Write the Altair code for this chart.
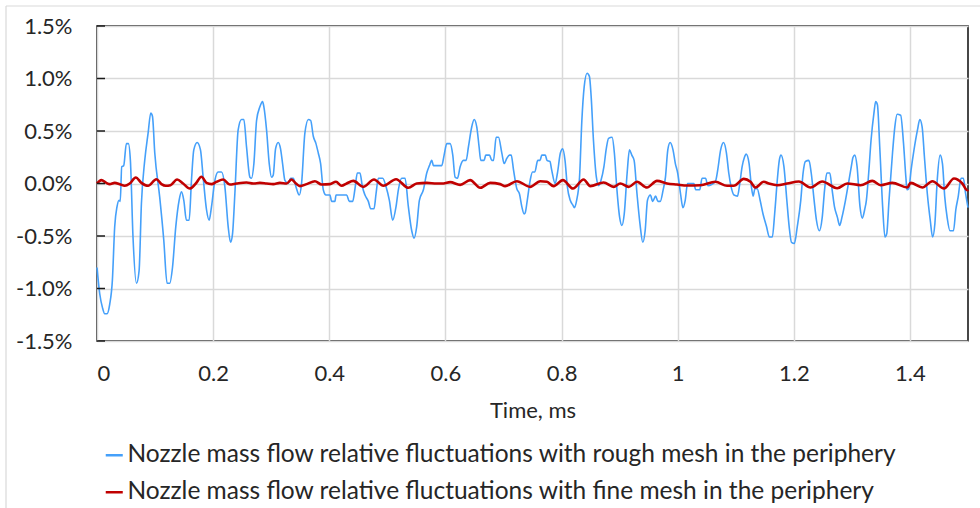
import altair as alt
import pandas as pd

ROUGH = "Nozzle mass flow relative fluctuations with rough mesh in the periphery"
FINE = "Nozzle mass flow relative fluctuations with fine mesh in the periphery"

rough_t = [0.000, 0.0047, 0.0093, 0.0133, 0.0173, 0.0219, 0.0265, 0.0305, 0.0345, 0.038, 0.040, 0.0426, 0.046,
           0.0506, 0.054, 0.0575, 0.062, 0.068, 0.0725, 0.0765, 0.0822, 0.088, 0.0926, 0.0955, 0.0995, 0.108,
           0.115, 0.1207, 0.1253, 0.130, 0.1357, 0.1414, 0.1455, 0.1495, 0.154, 0.1587, 0.1627, 0.1667, 0.1725,
           0.1782, 0.1828, 0.1886, 0.1931, 0.1972, 0.203, 0.2087, 0.2144, 0.2202, 0.2259, 0.230, 0.2334, 0.2374,
           0.2431, 0.2489, 0.2529, 0.2575, 0.2633, 0.2661, 0.2702, 0.2748, 0.2805, 0.2851, 0.2874, 0.292, 0.2966,
           0.3006, 0.3035, 0.3075, 0.3121, 0.3161, 0.3196, 0.3236, 0.3294, 0.3334, 0.338, 0.3426, 0.3483, 0.3523,
           0.358, 0.364, 0.368, 0.3725, 0.3771, 0.3811, 0.3851, 0.3897, 0.3943, 0.4012, 0.404, 0.4098, 0.4116,
           0.430, 0.4345, 0.4403, 0.4443, 0.4483, 0.4529, 0.457, 0.4615, 0.4673, 0.4713, 0.4771, 0.4805, 0.4845,
           0.492, 0.4978, 0.5035, 0.5092, 0.515, 0.519, 0.5247, 0.5305, 0.5362, 0.542, 0.546, 0.5506, 0.5552,
           0.5621, 0.5679, 0.5725, 0.5765, 0.5794, 0.5937, 0.5978, 0.6024, 0.6081, 0.6127, 0.6167, 0.6208, 0.6254,
           0.6311, 0.6357, 0.6397, 0.6454, 0.6495, 0.654, 0.658, 0.6609, 0.6667, 0.6695, 0.6759, 0.6799, 0.6828,
           0.6874, 0.6914, 0.6972, 0.7012, 0.7058, 0.7104, 0.7133, 0.7173, 0.723, 0.7276, 0.7316, 0.7356, 0.7374,
           0.741, 0.746, 0.750, 0.754, 0.759, 0.763, 0.766, 0.772, 0.775, 0.780, 0.783, 0.789, 0.793, 0.798, 0.802,
           0.806, 0.810, 0.815, 0.820, 0.822, 0.826, 0.831, 0.835, 0.839, 0.844, 0.848, 0.851, 0.855, 0.860, 0.864,
           0.868, 0.873, 0.877, 0.881, 0.887, 0.891, 0.895, 0.900, 0.904, 0.908, 0.913, 0.917, 0.921, 0.925, 0.930,
           0.935, 0.940, 0.944, 0.948, 0.953, 0.957, 0.962, 0.966, 0.970, 0.975, 0.979, 0.983, 0.987, 0.992, 0.996,
           1.000, 1.005, 1.009, 1.013, 1.017, 1.028, 1.031, 1.038, 1.042, 1.048, 1.052, 1.065, 1.069, 1.074, 1.079,
           1.084, 1.088, 1.092, 1.097, 1.103, 1.107, 1.111, 1.115, 1.118, 1.123, 1.127, 1.130, 1.133, 1.137, 1.142,
           1.147, 1.153, 1.158, 1.163, 1.167, 1.172, 1.175, 1.178, 1.183, 1.188, 1.192, 1.196, 1.201, 1.206, 1.212,
           1.216, 1.220, 1.226, 1.230, 1.235, 1.239, 1.244, 1.249, 1.253, 1.257, 1.262, 1.266, 1.270, 1.275, 1.279,
           1.283, 1.289, 1.295, 1.299, 1.302, 1.305, 1.309, 1.314, 1.318, 1.322, 1.325, 1.329, 1.333, 1.338, 1.341,
           1.344, 1.348, 1.353, 1.357, 1.360, 1.364, 1.370, 1.374, 1.378, 1.384, 1.389, 1.393, 1.395, 1.398, 1.402,
           1.407, 1.413, 1.417, 1.421, 1.425, 1.430, 1.435, 1.439, 1.443, 1.447, 1.452, 1.456, 1.460, 1.464, 1.469,
           1.475, 1.479, 1.483, 1.488, 1.492, 1.496, 1.500]
rough_v = [-0.80, -1.05, -1.18, -1.24, -1.24, -1.15, -0.92, -0.41, -0.22, -0.16, -0.17, 0.16, 0.17,
           0.38, 0.38, 0.22, -0.51, -0.95, -0.83, -0.19, 0.22, 0.48, 0.67, 0.64, 0.29, -0.13,
           -0.54, -0.95, -0.95, -0.80, -0.41, -0.16, -0.08, -0.16, -0.35, -0.35, 0.03, 0.32, 0.39,
           0.32, 0.06, -0.25, -0.35, -0.22, 0.03, 0.11, 0.11, -0.03, -0.41, -0.56, -0.48, -0.10,
           0.51, 0.61, 0.61, 0.35, 0.06, 0.05, 0.19, 0.60, 0.73, 0.78, 0.73, 0.51, 0.19,
           0.06, 0.08, 0.33, 0.39, 0.33, 0.19, 0.03, 0.00, 0.05, 0.05, -0.03, -0.11, 0.00,
           0.48, 0.61, 0.60, 0.45, 0.38, 0.29, 0.19, -0.06, -0.11, -0.11, -0.17, -0.17, -0.11,
           -0.11, -0.17, -0.17, -0.05, 0.10, 0.10, -0.03, -0.11, -0.17, -0.24, -0.24, -0.10, 0.05,
           0.05, -0.03, -0.16, -0.35, -0.22, -0.06, 0.05, 0.05, -0.22, -0.45, -0.52, -0.41, -0.16,
           -0.06, 0.10, 0.17, 0.22, 0.17, 0.17, 0.27, 0.38, 0.38, 0.27, 0.06, 0.05, 0.16,
           0.22, 0.22, 0.35, 0.54, 0.61, 0.54, 0.35, 0.22, 0.22, 0.27, 0.27, 0.22, 0.22,
           0.44, 0.44, 0.29, 0.19, 0.24, 0.27, 0.27, 0.13, -0.05, -0.10, -0.22, -0.29, -0.28,
           -0.16, 0.03, 0.11, 0.11, 0.22, 0.22, 0.27, 0.27, 0.22, 0.21, 0.13, 0.00, 0.10, 0.29, 0.33,
           0.22, -0.03, -0.16, -0.21, -0.23, -0.16, 0.06, 0.60, 0.92, 1.05, 1.02, 0.83, 0.41, 0.06, -0.02,
           0.03, 0.16, 0.33, 0.43, 0.44, 0.29, -0.03, -0.32, -0.40, -0.29, 0.10, 0.32, 0.27, 0.22, -0.10,
           -0.38, -0.56, -0.45, -0.16, -0.11, -0.17, -0.12, -0.17, -0.17, -0.06, 0.06, 0.32, 0.39, 0.32, 0.19,
           0.10, -0.10, -0.23, -0.16, 0.00, 0.00, -0.06, -0.06, 0.05, 0.05, -0.02, 0.02, 0.13, 0.32, 0.39,
           0.29, 0.10, -0.03, -0.11, -0.12, 0.00, 0.16, 0.25, 0.28, 0.19, -0.03, -0.12, -0.05, -0.05, -0.16,
           -0.29, -0.41, -0.51, -0.51, -0.29, 0.06, 0.22, 0.27, 0.16, -0.16, -0.41, -0.56, -0.57, -0.41, -0.16,
           0.10, 0.21, 0.22, 0.10, -0.16, -0.35, -0.45, -0.32, -0.06, 0.10, 0.10, -0.06, -0.22, -0.32, -0.40,
           -0.32, -0.16, 0.03, 0.16, 0.25, 0.27, 0.16, -0.22, -0.33, -0.25, -0.16, 0.10, 0.41, 0.67, 0.78,
           0.75, 0.35, -0.22, -0.51, -0.48, -0.16, 0.29, 0.54, 0.66, 0.65, 0.38, 0.06, -0.06, -0.05, 0.13,
           0.32, 0.51, 0.61, 0.54, 0.25, -0.10, -0.35, -0.51, -0.38, 0.03, 0.27, 0.19, -0.13, -0.32, -0.45,
           -0.45, -0.25, -0.13, 0.05, 0.05, -0.10, -0.23]

fine_t = [0.0000, 0.0075, 0.0161, 0.0219, 0.0305, 0.0391, 0.0478, 0.0564, 0.0667, 0.0765, 0.0880, 0.1023,
          0.1110, 0.1184, 0.1265, 0.1380, 0.1483, 0.1598, 0.1702, 0.1799, 0.1886, 0.1972, 0.2058, 0.2173,
          0.2288, 0.2403, 0.2575, 0.2690, 0.2805, 0.2920, 0.3035, 0.3150, 0.3265, 0.3351, 0.3426, 0.3495,
          0.3610, 0.3753, 0.3868, 0.4012, 0.4116, 0.4213, 0.4300, 0.4414, 0.4587, 0.4771, 0.4932, 0.5150,
          0.5362, 0.5506, 0.5679, 0.5851, 0.5966, 0.6081, 0.6254, 0.6426, 0.6598, 0.6771, 0.6943, 0.7029,
          0.7230, 0.7460, 0.7633, 0.7748, 0.7863, 0.8024, 0.8197, 0.8381, 0.8495, 0.8725, 0.8897, 0.9012,
          0.9156, 0.9300, 0.9472, 0.9644, 0.9817, 0.9989, 1.0161, 1.0391, 1.0650, 1.0851, 1.0966, 1.1139,
          1.1254, 1.1340, 1.1483, 1.1570, 1.1713, 1.1886, 1.2087, 1.2288, 1.2489, 1.2748, 1.2920, 1.3150,
          1.3351, 1.3495, 1.3696, 1.3955, 1.4012, 1.4213, 1.4386, 1.4587, 1.4759, 1.4902, 1.4989, 1.5000]
fine_v = [0.000, 0.032, 0.006, -0.006, 0.006, -0.006, -0.022, 0.000, 0.057, 0.006, -0.022, 0.041,
          -0.006, -0.022, -0.016, 0.038, 0.000, -0.048, 0.000, 0.064, 0.006, -0.006, 0.016, 0.038,
          -0.010, 0.000, 0.010, 0.000, 0.006, 0.000, -0.006, 0.006, 0.000, 0.038, 0.000, -0.025,
          -0.006, 0.022, -0.010, -0.006, 0.016, -0.022, 0.000, 0.025, -0.032, 0.038, -0.022, 0.041,
          -0.041, 0.000, 0.006, 0.000, 0.000, 0.013, -0.013, 0.032, -0.041, 0.006, -0.006, -0.025,
          0.022, -0.032, 0.022, 0.016, -0.025, 0.032, -0.048, 0.038, -0.025, 0.010, -0.032, 0.000,
          -0.032, 0.016, -0.038, 0.025, 0.000, -0.010, -0.019, -0.016, 0.016, -0.022, -0.022, 0.044,
          0.016, -0.038, 0.016, 0.000, -0.016, 0.000, 0.019, -0.038, 0.019, -0.045, 0.000, -0.016,
          0.025, -0.016, 0.006, -0.038, 0.006, -0.038, 0.022, -0.048, 0.048, 0.000, -0.064, -0.057]

x_ticks = [0, 0.2, 0.4, 0.6, 0.8, 1.0, 1.2, 1.4]
y_ticks = [-1.5, -1.0, -0.5, 0.0, 0.5, 1.0, 1.5]

BLUE = "#45A0FA"
RED = "#C00000"
FONT = "Lato"
TXT = "#262626"

df = pd.concat([
    pd.DataFrame({"t": rough_t, "v": rough_v, "series": ROUGH}),
    pd.DataFrame({"t": fine_t, "v": fine_v, "series": FINE}),
], ignore_index=True)

color = alt.Color("series:N",
                  scale=alt.Scale(domain=[ROUGH, FINE], range=[BLUE, RED]),
                  legend=alt.Legend(title=None, orient="none", legendX=5, legendY=417,
                                    direction="vertical", symbolType="stroke", symbolSize=290,
                                    symbolStrokeWidth=2.5, labelFontSize=24.5, labelFont=FONT,
                                    labelColor=TXT, rowPadding=12, labelOffset=1, labelLimit=0))

xenc = alt.X("t:Q", scale=alt.Scale(domain=[0, 1.5], nice=False),
             axis=alt.Axis(values=x_ticks, format="~g", title="Time, ms", ticks=False, domain=False,
                           labelPadding=22, titlePadding=16, grid=True))
yenc = alt.Y("v:Q", scale=alt.Scale(domain=[-1.5, 1.5], nice=False),
             axis=alt.Axis(values=y_ticks,
                           labelExpr="(datum.value < 0 ? '-' : '') + format(abs(datum.value), '.1f') + '%'",
                           title=None, ticks=False, domain=False, labelPadding=25, grid=True))

base = alt.Chart(df)
blue = base.transform_filter(alt.datum.series == ROUGH).mark_line(
    strokeWidth=1.6, interpolate="monotone").encode(x=xenc, y=yenc, color=color, order="t:Q")
red = base.transform_filter(alt.datum.series == FINE).mark_line(
    strokeWidth=2.6, interpolate="monotone").encode(x="t:Q", y="v:Q", color=color, order="t:Q")

ticks = alt.Chart(pd.DataFrame({"v": y_ticks})).mark_rule(color="#1a1a1a", strokeWidth=1.5).encode(
    y="v:Q", x=alt.value(0), x2=alt.value(8))

frame = alt.Chart(pd.DataFrame({"a": [0]}))
top_border = frame.mark_rule(color="#D9D9D9", strokeWidth=1.2).encode(
    x=alt.value(-91), x2=alt.value(890), y=alt.value(-20))
left_border = frame.mark_rule(color="#D9D9D9", strokeWidth=1.2).encode(
    x=alt.value(-91), y=alt.value(-20), y2=alt.value(490))

chart = alt.layer(top_border, left_border, blue, red, ticks).properties(
    width=871, height=315,
    autosize=alt.AutoSizeParams(type="none"),
    padding={"left": 97, "top": 26, "right": 12, "bottom": 167},
    background="white",
).configure_view(stroke="#1a1a1a", strokeWidth=1.6).configure_axis(
    gridColor="#D9D9D9", gridWidth=1.5, labelFont=FONT, labelFontSize=22, labelColor=TXT,
    titleFont=FONT, titleFontSize=22, titleColor=TXT, titleFontWeight="normal",
)

chart.save("out.html", embed_options={"renderer": "svg", "actions": False})
